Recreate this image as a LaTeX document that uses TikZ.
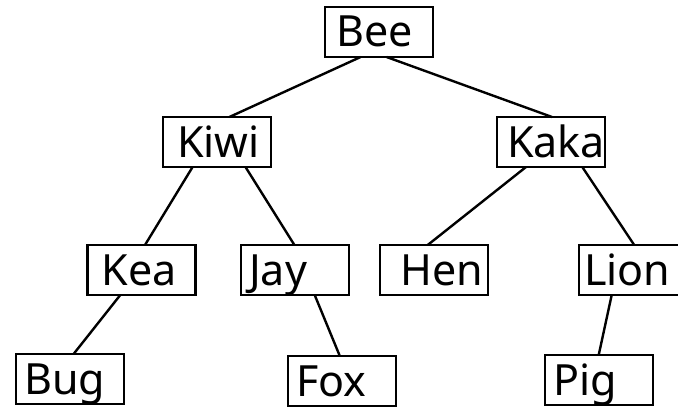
\documentclass[tikz,border=0pt]{standalone}
\usepackage{fontspec}
\setmainfont{Noto Sans}
\begin{document}
\begin{tikzpicture}[x=1pt,y=1pt,
  box/.style={draw=black,line width=2.2pt,minimum width=108pt,minimum height=50pt,inner sep=0pt,outer sep=0pt},
  lab/.style={anchor=base west,inner sep=0pt,font=\fontsize{43}{45}\selectfont},
  edge/.style={draw=black,line width=2.4pt}]
\useasboundingbox (0,0) rectangle (678,408);
% boxes (centres: image x, 408 - image y)
\node[box] (bee)  at (379,376) {};
\node[box] (kiwi) at (217,266) {};
\node[box] (kaka) at (551,266) {};
\node[box] (kea)  at (141.5,138) {};
\node[box] (jay)  at (295,138) {};
\node[box] (hen)  at (434,138) {};
\node[box] (lion) at (633,138) {};
\node[box] (bug)  at (70,29) {};
\node[box] (fox)  at (342,27) {};
\node[box] (pig)  at (599,28) {};
% labels
\node[lab] (tbee)  at ([xshift=11pt,yshift=10pt]bee.south west)  {Bee};
\node[lab] (tkiwi) at ([xshift=14pt,yshift=10pt]kiwi.south west) {Kiwi};
\node[lab] (tkaka) at ([xshift=10pt,yshift=10pt]kaka.south west) {Kaka};
\node[lab] (tkea)  at ([xshift=14pt,yshift=10pt]kea.south west)  {Kea};
\node[lab] (tjay)  at ([xshift=8pt,yshift=10pt]jay.south west)   {Jay};
\node[lab] (then)  at ([xshift=20pt,yshift=10pt]hen.south west)  {Hen};
\node[lab] (tlion) at ([xshift=5pt,yshift=10pt]lion.south west)  {Lion};
\node[lab] (tbug)  at ([xshift=8pt,yshift=10pt]bug.south west)   {Bug};
\node[lab] (tfox)  at ([xshift=8pt,yshift=10pt]fox.south west)   {Fox};
\node[lab] (tpig)  at ([xshift=8pt,yshift=10pt]pig.south west)   {Pig};
% connectors
\draw[edge] ([xshift=-18.4pt]bee.south) -- ([xshift=12.4pt]kiwi.north);
\draw[edge] ([xshift=7.6pt]bee.south) -- ([xshift=1pt]kaka.north);
\draw[edge] ([xshift=-24.4pt]kiwi.south) -- ([xshift=3.5pt]kea.north);
\draw[edge] ([xshift=28.5pt]kiwi.south) -- ([xshift=-0.6pt]jay.north);
\draw[edge] ([xshift=-25pt]kaka.south) -- ([xshift=-6.3pt]hen.north);
\draw[edge] ([xshift=31.3pt]kaka.south) -- ([xshift=1.2pt]lion.north);
\draw[edge] ([xshift=-21.2pt]kea.south) -- ([xshift=3.6pt]bug.north);
\draw[edge] ([xshift=19.7pt]jay.south) -- ([xshift=-2.2pt]fox.north);
\draw[edge] ([xshift=-21.3pt]lion.south) -- ([xshift=-0.3pt]pig.north);
\end{tikzpicture}
\end{document}
